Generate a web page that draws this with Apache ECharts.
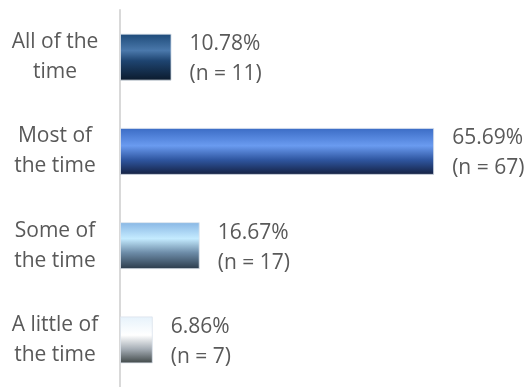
<!DOCTYPE html>
<html>
<head>
<meta charset="utf-8">
<script src="https://cdn.jsdelivr.net/npm/echarts@6/dist/echarts.min.js"></script>
<style>html,body{margin:0;padding:0;background:#fff;}#c{width:526px;height:387px;}</style>
</head>
<body>
<div id="c"></div>
<script>
var categories = ['All of the\ntime', 'Most of\nthe time', 'Some of\nthe time', 'A little of\nthe time'];
var percents = [10.78, 65.69, 16.67, 6.86];
var counts = [11, 67, 17, 7];

var gradients = [
  [['0', '#1d4a78'], ['0.36', '#4a78ab'], ['0.58', '#1e4470'], ['1', '#0b1a2c']],
  [['0', '#3a6bc4'], ['0.38', '#6a9bf0'], ['0.68', '#2f56a0'], ['1', '#142040']],
  [['0', '#88b6e4'], ['0.35', '#c4ebff'], ['0.65', '#6d8ca8'], ['1', '#2a3a4a']],
  [['0', '#e6f2fb'], ['0.4', '#ffffff'], ['0.7', '#a4acb4'], ['1', '#3e4646']]
];

function grad(stops) {
  return new echarts.graphic.LinearGradient(0, 0, 0, 1, stops.map(function (s) {
    return { offset: parseFloat(s[0]), color: s[1] };
  }));
}

var data = percents.map(function (v, i) {
  return {
    value: v,
    itemStyle: { color: grad(gradients[i]), borderColor: 'rgba(220,228,236,0.8)', borderWidth: 1 }
  };
});

var chart = echarts.init(document.getElementById('c'));
chart.setOption({
  animation: false,
  textStyle: { fontFamily: 'Open Sans' },
  grid: { left: 120, top: 10, bottom: 0, width: 382.6, containLabel: false },
  xAxis: {
    type: 'value', min: 0, max: 80, show: false
  },
  yAxis: {
    type: 'category', data: categories, inverse: true,
    axisLine: { show: true, lineStyle: { color: '#d9d9d9', width: 2 } },
    axisTick: { show: false },
    axisLabel: {
      color: '#595959', fontSize: 21, fontFamily: 'Open Sans',
      align: 'center', margin: 65, lineHeight: 30, padding: [8, 0, 0, 0]
    }
  },
  series: [{
    type: 'bar',
    data: data,
    barWidth: 47,
    label: {
      show: true, position: 'right', distance: 18, offset: [0, 2],
      color: '#595959', fontSize: 21, fontFamily: 'Open Sans', lineHeight: 30,
      align: 'left',
      formatter: function (p) {
        return percents[p.dataIndex].toFixed(2) + '%\n(n = ' + counts[p.dataIndex] + ')';
      }
    }
  }]
});
</script>
</body>
</html>
